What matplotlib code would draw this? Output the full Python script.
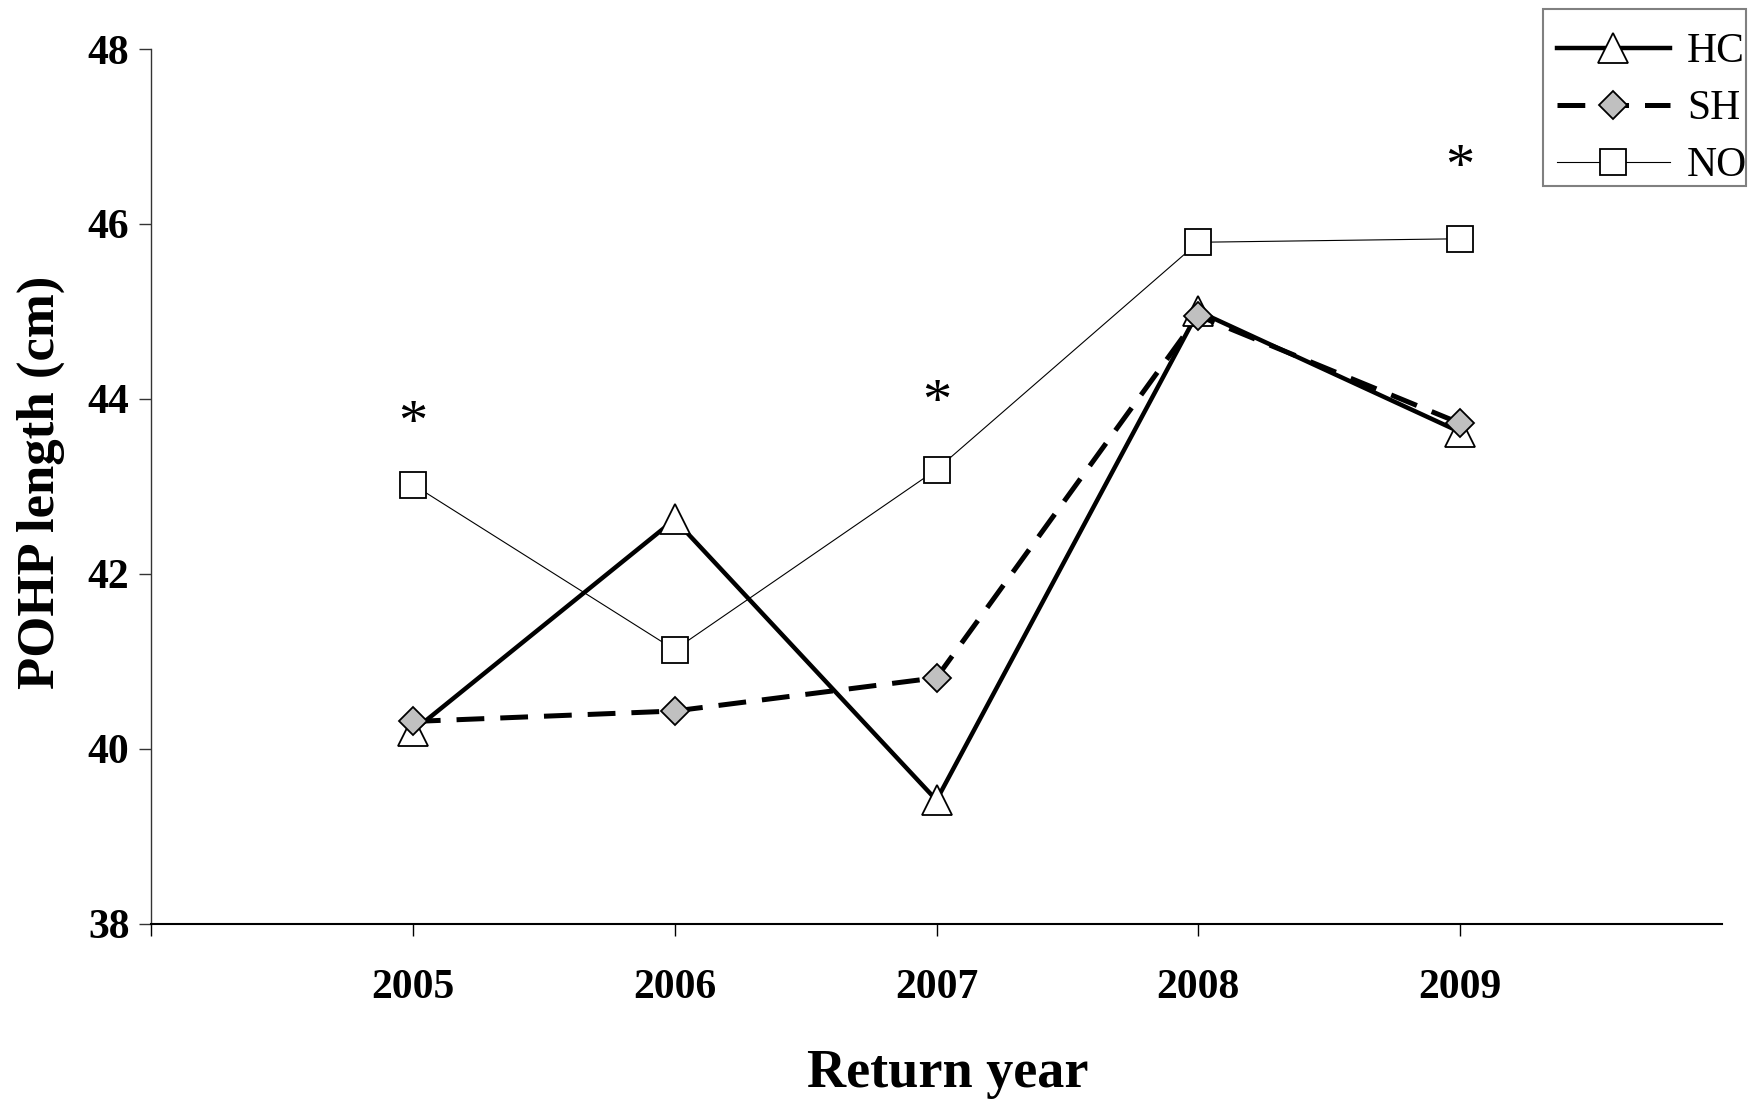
import matplotlib
matplotlib.use("Agg")
import matplotlib.pyplot as plt
from matplotlib.patches import Rectangle
import numpy as np

years = ["2005", "2006", "2007", "2008", "2009"]
hc = [40.2, 42.62, 39.41, 45.0, 43.62]
sh = [40.31, 40.43, 40.81, 44.95, 43.72]
no = [43.02, 41.13, 43.19, 45.79, 45.83]
sig_idx = [0, 2, 4]
sig_y = [43.84, 44.08, 46.77]
y_ticks = [38, 40, 42, 44, 46, 48]

plt.rcParams['font.family'] = ['Liberation Serif', 'DejaVu Serif']

W, H = 1753, 1100
fig = plt.figure(figsize=(W / 100, H / 100), dpi=100)
ax = fig.add_axes([151 / W, 1 - 923.5 / H, (1722 - 151) / W, (923.5 - 49) / H])

x = np.arange(1, len(years) + 1)

lw_sh = 3.6
ax.plot(x, no, color='black', lw=0.8, marker='s', ms=19.4, mfc='white',
        mec='black', mew=1.3, label='NO', zorder=3)
ax.plot(x, sh, color='black', lw=lw_sh, ls=(0, (20 / lw_sh, 11.5 / lw_sh)),
        marker='D', ms=14.2, mfc='#c0c0c0', mec='black', mew=1.3, label='SH', zorder=4)
ax.plot(x, hc, color='black', lw=3.2, marker='^', ms=21, mfc='white',
        mec='black', mew=1.3, label='HC', zorder=3)

for i, yv in zip(sig_idx, sig_y):
    ax.annotate('*', xy=(x[i], yv), xytext=(0, -19), textcoords='offset points',
                ha='center', va='baseline', fontsize=42)

ax.set_xlim(0, len(years) + 1)
ax.set_ylim(y_ticks[0], y_ticks[-1])
ax.set_yticks(y_ticks)
ax.set_yticklabels([str(v) for v in y_ticks], fontsize=30, fontweight='bold')
ax.set_xticks(np.concatenate([[0], x]))
ax.set_xticklabels([''] + years, fontsize=30, fontweight='bold')

ax.spines['top'].set_visible(False)
ax.spines['right'].set_visible(False)
ax.spines['left'].set_linewidth(1.0)
ax.spines['bottom'].set_linewidth(1.5)
ax.spines['left'].set_color('#333333')
ax.tick_params(axis='y', direction='out', length=8.5, width=1.0, pad=7, color='#333333')
ax.tick_params(axis='x', direction='out', length=8.5, width=1.0, pad=24)

ax.set_xlabel('Return year', fontsize=39, fontweight='bold')
ax.xaxis.set_label_coords(0.507, -0.143)
ax.set_ylabel('POHP length (cm)', fontsize=38, fontweight='bold')
ax.yaxis.set_label_coords(-0.0545, 0.505)

# legend box
fig.add_artist(Rectangle((1543 / W, 1 - 186 / H), (1746 - 1543) / W, (186 - 9.5) / H,
                         transform=fig.transFigure, facecolor='white',
                         edgecolor='#808080', lw=1.5, zorder=5))

handles, labels = ax.get_legend_handles_labels()
order = [2, 1, 0]
leg = fig.legend([handles[i] for i in order], [labels[i] for i in order],
                 loc='upper left', bbox_to_anchor=(1557 / W, 1 - 33 / H),
                 fontsize=30, frameon=False, borderaxespad=0,
                 handlelength=2.7, handletextpad=0.42, labelspacing=0.44,
                 borderpad=0)
leg.set_zorder(6)

fig.savefig('out.png', dpi=100)
